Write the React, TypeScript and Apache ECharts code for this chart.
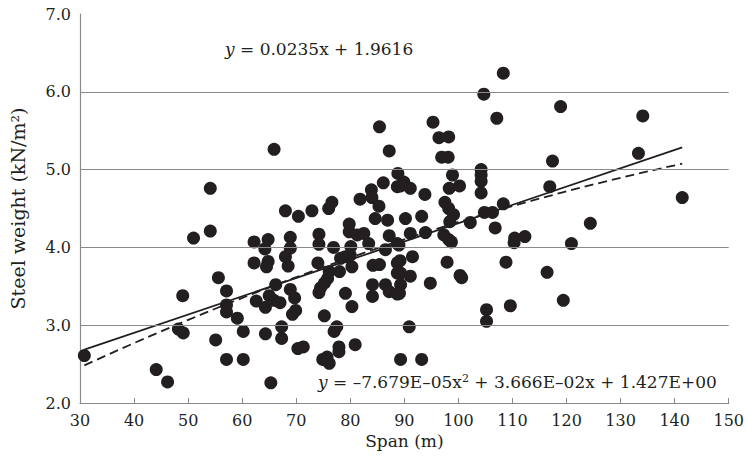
import React, { useEffect, useRef } from "react";
import * as echarts from "echarts";

// Span (m) of each bridge
const spans = [
  30.8, 44.1, 46.2, 48.2, 49.1, 49.0, 51.0, 54.1, 54.1, 55.1, 55.6, 57.1, 57.1, 57.1, 57.1, 60.2, 59.1, 60.2,
  62.2, 62.2, 64.8, 64.2, 64.8, 64.5, 66.2, 65.0, 65.9, 67.0, 62.6, 64.3, 64.3, 67.3, 67.3, 65.3, 65.9,
  68.9, 68.9, 68.0, 68.5, 68.9, 69.7, 69.9, 69.3, 70.3, 71.3, 68.0, 70.4, 72.9, 74.0, 74.2, 74.2, 74.2,
  74.5, 75.2, 75.8, 76.1, 75.2, 74.9, 76.1, 75.7, 76.9, 76.0, 76.6, 77.5, 77.0, 77.9, 77.9, 79.1, 80.3,
  80.9, 78.0, 78.2, 79.1, 80.0, 80.3, 79.8, 81.3, 82.5, 83.4, 84.2, 84.1, 84.1, 81.8, 83.9, 84.0, 84.6,
  85.4, 85.3, 86.1, 79.8, 80.1, 85.4, 86.9, 87.2, 88.7, 86.5, 88.7, 88.7, 86.5, 87.2, 88.7, 87.2, 88.8,
  88.7, 89.3, 93.2, 90.9, 100.3, 97.9, 94.8, 91.5, 89.2, 89.3, 91.1, 89.3, 89.1, 98.2, 98.7, 91.1, 93.9,
  97.3, 89.0, 89.9, 89.3, 91.1, 93.8, 98.9, 98.3, 100.2, 97.5, 98.2, 99.1, 98.4, 90.2, 93.2, 95.3, 96.4,
  98.2, 96.9, 98.1, 102.2, 104.2, 104.2, 104.2, 104.2, 104.7, 108.3, 107.1, 104.8, 106.3, 108.3, 106.8,
  110.3, 110.4, 112.3, 105.2, 105.2, 109.6, 108.8, 116.4, 118.9, 117.4, 116.9, 119.4, 120.9, 124.4,
  133.3, 134.1, 141.4, 100.6,
];

// Steel weight (kN/m2) of each bridge
const weights = [
  2.61, 2.43, 2.27, 2.95, 2.9, 3.38, 4.12, 4.21, 4.76, 2.81, 3.61, 3.44, 3.26, 3.17, 2.56, 2.56, 3.09, 2.92,
  4.07, 3.8, 4.1, 3.98, 3.82, 3.75, 3.52, 3.38, 3.32, 3.29, 3.31, 3.23, 2.89, 2.98, 2.83, 2.26, 5.26,
  4.13, 3.99, 3.88, 3.76, 3.46, 3.35, 3.19, 3.14, 2.7, 2.72, 4.47, 4.4, 4.47, 3.8, 4.17, 4.04, 3.42,
  3.48, 3.54, 3.6, 3.69, 3.12, 2.56, 2.51, 2.59, 4.0, 4.5, 4.58, 2.98, 2.92, 2.72, 2.66, 3.41, 3.24,
  2.75, 3.69, 3.86, 3.88, 3.9, 3.75, 4.2, 4.16, 4.18, 4.05, 3.77, 3.52, 3.37, 4.62, 4.74, 4.64, 4.37,
  5.55, 4.53, 4.83, 4.3, 4.01, 3.78, 4.35, 4.15, 4.05, 3.97, 3.8, 3.67, 3.52, 3.43, 3.4, 5.24, 4.95,
  4.78, 2.56, 2.56, 2.98, 3.64, 3.81, 3.54, 3.88, 3.83, 3.67, 3.63, 3.52, 3.41, 4.1, 4.07, 4.18, 4.19,
  4.16, 4.03, 4.84, 4.79, 4.76, 4.68, 4.93, 4.76, 4.79, 4.58, 4.5, 4.42, 4.33, 4.37, 4.4, 5.61, 5.41,
  5.42, 5.16, 5.16, 4.32, 5.0, 4.93, 4.85, 4.7, 5.97, 6.24, 5.66, 4.45, 4.45, 4.56, 4.25,
  4.06, 4.12, 4.14, 3.2, 3.05, 3.25, 3.81, 3.68, 5.81, 5.11, 4.78, 3.32, 4.05, 4.31,
  5.21, 5.69, 4.64, 3.61,
];

// Axis ticks
const xMin = 30;
const xMax = 150;
const xStep = 10;
const yMin = 2;
const yMax = 7;
const yStep = 1;
const gridValues = [3, 4, 5, 6];

// Fitted trend equations printed on the chart
const linearSlope = 0.0235;
const linearIntercept = 1.9616;
const polyA = -7.679e-5;
const polyB = 3.666e-2;
const polyC = 1.427;
const linearLabel = "{i|y} = 0.0235x + 1.9616";
const polyLabel = "{i|y} = –7.679E–05x{s|2} + 3.666E–02x + 1.427E+00";

const FONT = "'DejaVu Serif', 'Liberation Serif', serif";
const INK = "#231f20";
const GRAY = "#8a8a8a";

export default function App() {
  const ref = useRef<HTMLDivElement>(null);

  useEffect(() => {
    document.body.style.margin = "0";
    if (!ref.current) return;
    const chart = echarts.init(ref.current, undefined, { renderer: "svg" });

    const points = spans.map((s, i) => [s, weights[i]]);
    const lo = Math.min(...spans);
    const hi = Math.max(...spans);
    const linearData = [lo, hi].map((x) => [x, linearSlope * x + linearIntercept]);
    const polyData: number[][] = [];
    const steps = 40;
    for (let k = 0; k <= steps; k++) {
      const x = lo + ((hi - lo) * k) / steps;
      polyData.push([x, polyA * x * x + polyB * x + polyC]);
    }

    const rich = {
      i: { fontStyle: "italic", fontFamily: FONT, fontSize: 17, fill: INK },
      s: { fontFamily: FONT, fontSize: 11, fill: INK, verticalAlign: "top", padding: [0, 0, 8, 0] },
    };

    chart.setOption({
      animation: false,
      grid: { left: 79, right: 15, top: 14, bottom: 64, containLabel: false },
      xAxis: {
        type: "value",
        min: xMin,
        max: xMax,
        interval: xStep,
        name: "Span (m)",
        nameLocation: "middle",
        nameGap: 27,
        nameTextStyle: { fontFamily: FONT, fontSize: 17, color: INK },
        axisLine: { show: true, onZero: false, lineStyle: { color: GRAY, width: 1.2 } },
        axisTick: { show: true, inside: true, length: 5, lineStyle: { color: GRAY } },
        axisLabel: { fontFamily: FONT, fontSize: 16, color: INK, margin: 9 },
        splitLine: { show: false },
      },
      yAxis: {
        type: "value",
        min: yMin,
        max: yMax,
        interval: yStep,
        name: "Steel weight (kN/m²)",
        nameLocation: "middle",
        nameGap: 53,
        nameTextStyle: { fontFamily: FONT, fontSize: 19, color: INK },
        axisLine: { show: true, lineStyle: { color: GRAY, width: 1.2 } },
        axisTick: { show: false },
        axisLabel: {
          fontFamily: FONT,
          fontSize: 16,
          color: INK,
          margin: 9,
          formatter: (v: number) => v.toFixed(1),
        },
        splitLine: { show: false },
      },
      series: [
        {
          type: "line",
          data: [],
          z: 1,
          silent: true,
          markLine: {
            silent: true,
            symbol: "none",
            label: { show: false },
            lineStyle: { color: GRAY, type: "solid", width: 1.2 },
            data: gridValues.map((v) => ({ yAxis: v })),
          },
        },
        {
          type: "scatter",
          data: points,
          symbol: "circle",
          symbolSize: 13,
          itemStyle: { color: INK, opacity: 1 },
          z: 3,
        },
        {
          type: "line",
          data: linearData,
          showSymbol: false,
          symbol: "none",
          lineStyle: { color: INK, width: 1.8, type: "solid" },
          z: 4,
        },
        {
          type: "line",
          data: polyData,
          showSymbol: false,
          symbol: "none",
          smooth: false,
          lineStyle: { color: INK, width: 1.8, type: [9, 5] },
          z: 4,
        },
      ],
      graphic: [
        {
          type: "text",
          x: 225,
          y: 49,
          z: 10,
          style: {
            text: linearLabel,
            fontFamily: FONT,
            fontSize: 17,
            fill: INK,
            verticalAlign: "middle",
            rich,
          },
        },
        {
          type: "text",
          x: 318,
          y: 382,
          z: 10,
          style: {
            text: polyLabel,
            fontFamily: FONT,
            fontSize: 17,
            fill: INK,
            verticalAlign: "middle",
            rich,
          },
        },
      ],
    });

    return () => chart.dispose();
  }, []);

  return <div ref={ref} style={{ width: 747, height: 467 }} />;
}
